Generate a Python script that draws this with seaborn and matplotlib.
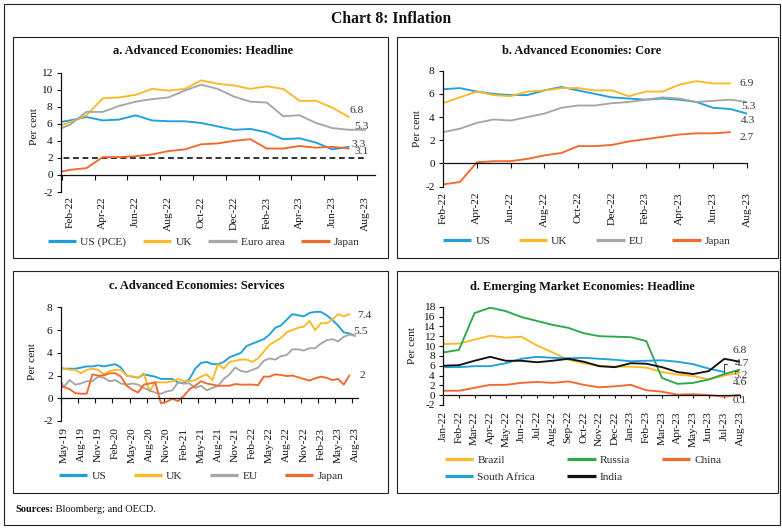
import numpy as np
import pandas as pd
import matplotlib
matplotlib.use("Agg")
import matplotlib.pyplot as plt
import seaborn as sns
from matplotlib.patches import Rectangle
from matplotlib.lines import Line2D

nan = np.nan

# ---------------- data ----------------
# Panel a: Advanced Economies Headline (Jan-22 .. Aug-23)
months_a = ['Jan-22', 'Feb-22', 'Mar-22', 'Apr-22', 'May-22', 'Jun-22', 'Jul-22', 'Aug-22',
            'Sep-22', 'Oct-22', 'Nov-22', 'Dec-22', 'Jan-23', 'Feb-23', 'Mar-23', 'Apr-23',
            'May-23', 'Jun-23', 'Jul-23', 'Aug-23']
us_pce_a = [6.1, 6.4, 6.8, 6.4, 6.5, 7.0, 6.4, 6.3, 6.3, 6.1, 5.7, 5.3, 5.4, 5.0, 4.2, 4.3, 3.8, 3.0, 3.3, nan]
uk_a = [5.5, 6.2, 7.0, 9.0, 9.1, 9.4, 10.1, 9.9, 10.1, 11.1, 10.7, 10.5, 10.1, 10.4, 10.1, 8.7, 8.7, 7.9, 6.8, nan]
euro_a = [5.1, 5.9, 7.4, 7.4, 8.1, 8.6, 8.9, 9.1, 9.9, 10.6, 10.1, 9.2, 8.6, 8.5, 6.9, 7.0, 6.1, 5.5, 5.3, 5.3]
japan_a = [0.2, 0.6, 0.8, 2.1, 2.1, 2.2, 2.4, 2.8, 3.0, 3.6, 3.7, 4.0, 4.2, 3.1, 3.1, 3.4, 3.2, 3.3, 3.1, nan]
target_a = [2.0] * 20

# Panel b: Advanced Economies Core (Feb-22 .. Aug-23)
months_b = months_a[1:]
us_b = [6.4, 6.5, 6.2, 6.0, 5.9, 5.9, 6.3, 6.6, 6.3, 6.0, 5.7, 5.6, 5.5, 5.6, 5.5, 5.3, 4.8, 4.7, 4.3]
uk_b = [5.2, 5.7, 6.2, 5.9, 5.8, 6.2, 6.3, 6.5, 6.5, 6.3, 6.3, 5.8, 6.2, 6.2, 6.8, 7.1, 6.9, 6.9, nan]
eu_b = [2.7, 3.0, 3.5, 3.8, 3.7, 4.0, 4.3, 4.8, 5.0, 5.0, 5.2, 5.3, 5.5, 5.7, 5.6, 5.3, 5.4, 5.5, 5.3]
japan_b = [-1.8, -1.6, 0.1, 0.2, 0.2, 0.4, 0.7, 0.9, 1.5, 1.5, 1.6, 1.9, 2.1, 2.3, 2.5, 2.6, 2.6, 2.7, nan]

# Panel c: Advanced Economies Services (Apr-19 .. Aug-23)
months_c = list(pd.date_range('2019-04-01', '2023-08-01', freq='MS').strftime('%b-%y'))
us_c = [2.7, 2.6, 2.6, 2.6, 2.7, 2.8, 2.8, 2.9, 2.8,
        2.9, 3.0, 2.7, 2.0, 1.9, 1.8, 2.1, 2.0, 1.9, 1.7, 1.7, 1.7,
        1.4, 1.3, 1.7, 2.6, 3.1, 3.2, 3.0, 3.0, 3.2, 3.6, 3.8, 4.0,
        4.6, 4.8, 5.0, 5.2, 5.6, 6.2, 6.4, 6.9, 7.4, 7.3, 7.2, 7.5,
        7.6, 7.6, 7.3, 6.9, 6.4, 5.8, 5.7, 5.5]
uk_c = [2.9, 2.6, 2.5, 2.5, 2.2, 2.5, 2.6, 2.5, 2.1,
        2.4, 2.5, 2.5, 2.0, 1.9, 1.8, 2.2, 0.6, 1.4, 1.4, 1.4, 1.5,
        1.7, 1.5, 1.5, 1.6, 1.9, 2.1, 1.6, 3.0, 2.6, 3.2, 3.3, 3.4,
        3.4, 3.2, 3.5, 4.1, 4.7, 5.0, 5.3, 5.8, 6.0, 6.2, 6.3, 6.8,
        6.0, 6.6, 6.6, 6.9, 7.4, 7.2, 7.4, nan]
eu_c = [1.9, 1.0, 1.6, 1.2, 1.3, 1.5, 1.5, 1.9, 1.8,
        1.5, 1.6, 1.3, 1.2, 1.3, 1.2, 0.9, 0.7, 0.5, 0.4, 0.6, 0.7,
        1.4, 1.3, 1.3, 0.9, 1.1, 0.7, 0.9, 1.1, 1.7, 2.1, 2.7, 2.4,
        2.3, 2.5, 2.7, 3.3, 3.5, 3.4, 3.7, 3.8, 4.3, 4.3, 4.2, 4.4,
        4.4, 4.8, 5.1, 5.2, 5.0, 5.4, 5.6, 5.5]
japan_c = [1.0, 1.0, 0.8, 0.45, 0.4, 0.4, 2.1, 2.0, 2.0,
           2.2, 2.2, 1.9, 1.1, 0.75, 0.5, 1.2, 1.3, 1.4, -0.45, -0.3, -0.05,
           -0.25, 0.2, 0.8, 1.1, 1.5, 1.3, 1.2, 1.1, 1.1, 1.1, 1.25, 1.2,
           1.2, 1.2, 1.15, 1.9, 1.9, 2.1, 2.05, 1.95, 2.0, 1.85, 1.7, 1.55,
           1.75, 1.9, 1.8, 1.6, 1.7, 1.2, 2.0, nan]

# Panel d: Emerging Market Economies Headline (Jan-22 .. Aug-23)
months_d = months_a
brazil_d = [10.4, 10.5, 11.3, 12.1, 11.7, 11.9, 10.1, 8.7, 7.2, 6.5, 5.9, 5.8, 5.8, 5.6, 4.7, 4.2, 3.9, 3.2, 4.0, 4.6]
russia_d = [8.7, 9.2, 16.7, 17.8, 17.1, 15.9, 15.1, 14.3, 13.7, 12.6, 12.0, 11.9, 11.8, 11.0, 3.5, 2.3, 2.5, 3.2, 4.3, 5.2]
china_d = [0.9, 0.9, 1.5, 2.1, 2.1, 2.5, 2.7, 2.5, 2.8, 2.1, 1.6, 1.8, 2.1, 1.0, 0.7, 0.1, 0.2, 0.0, -0.3, 0.1]
safrica_d = [5.7, 5.7, 5.9, 5.9, 6.5, 7.4, 7.8, 7.6, 7.5, 7.6, 7.4, 7.2, 6.9, 7.0, 7.1, 6.8, 6.3, 5.4, 4.7, nan]
india_d = [6.0, 6.1, 7.0, 7.8, 7.0, 7.0, 6.7, 7.0, 7.4, 6.8, 5.9, 5.7, 6.5, 6.4, 5.7, 4.7, 4.3, 4.9, 7.4, 6.8]

# ---------------- style ----------------
BLUE = '#1FA0DA'
GOLD = '#FDB827'
GRAY = '#A6A6A6'
ORANGE = '#F2692E'
GREEN = '#2EA84C'
BLACK = '#111111'

sns.set_theme(style='white')
plt.rcParams['font.family'] = ['Liberation Serif', 'DejaVu Serif']
plt.rcParams['axes.unicode_minus'] = False

W, H = 782, 528
fig = plt.figure(figsize=(W / 100, H / 100), dpi=100)
fig.patch.set_facecolor('white')

TICK_FS = 8.2
LW = 1.35


def ax_px(left, top, right, bottom):
    return fig.add_axes([left / W, 1 - bottom / H, (right - left) / W, (bottom - top) / H])


def frame(left, top, right, bottom, lw=0.8):
    fig.add_artist(Rectangle((left / W, 1 - bottom / H), (right - left) / W, (bottom - top) / H,
                             transform=fig.transFigure, fill=False, lw=lw, ec='#222222'))


def style(ax, ylim, ystep, xlim):
    ax.set_facecolor('none')
    ax.set_xlim(*xlim)
    ax.set_ylim(*ylim)
    ax.set_yticks(np.arange(ylim[0], ylim[1] + 0.01, ystep))
    ax.set_yticklabels([f"{int(v)}" for v in np.arange(ylim[0], ylim[1] + 0.01, ystep)])
    for s in ['top', 'right']:
        ax.spines[s].set_visible(False)
    ax.spines['bottom'].set_position(('data', 0))
    for s in ['left', 'bottom']:
        ax.spines[s].set_color('#111111')
        ax.spines[s].set_linewidth(0.9)
    ax.tick_params(axis='y', direction='out', length=3, width=0.8, pad=3,
                   labelsize=TICK_FS, colors='#111111', left=True)
    ax.tick_params(axis='x', which='both', direction='out', width=0.8, colors='#111111',
                   labelsize=TICK_FS, bottom=True)
    ax.set_xlabel('')
    ax.grid(False)


def draw(ax, x, y, color, lw=LW):
    sns.lineplot(x=x, y=y, ax=ax, color=color, linewidth=lw, legend=False)


def legend(ax, colors, labels, x_px, y_px, ncol, colsp):
    handles = [Line2D([], [], color=c, lw=2.3, solid_capstyle='butt') for c in colors]
    ax.legend(handles, labels, loc='center left', bbox_to_anchor=(x_px / W, 1 - y_px / H),
              bbox_transform=fig.transFigure, ncol=ncol, frameon=False, fontsize=8.2,
              handlelength=2.5, handletextpad=0.35, columnspacing=colsp, borderpad=0,
              borderaxespad=0, labelspacing=0.6)


def ylab(ax, x, y):
    ax.set_ylabel('Per cent', fontsize=8.2, color='#111111')
    ax.yaxis.set_label_coords(x, y)


def endlabel(ax, x, y, s):
    ax.text(x, y, s, ha='center', va='center', fontsize=8.2, color='#333333')


# outer and panel frames
frame(3.5, 3.5, 779.5, 525)
frame(13, 37, 388, 258)
frame(397, 37, 778, 258)
frame(13, 271, 388, 493)
frame(397, 271, 778, 493)

fig.text(0.5, 1 - 19 / H, 'Chart 8: Inflation', ha='center', va='center', fontsize=11.3,
         weight='bold', color='#111111')

# ---------------- panel a ----------------
axa = ax_px(61, 72.7, 375, 192)
pos_a = np.arange(len(months_a)) - 1
draw(axa, pos_a, target_a, BLACK, lw=1.2)
axa.lines[-1].set_linestyle((0, (3.5, 2.2)))
draw(axa, pos_a, us_pce_a, BLUE)
draw(axa, pos_a, uk_a, GOLD)
draw(axa, pos_a, euro_a, GRAY)
draw(axa, pos_a, japan_a, ORANGE)
style(axa, (-2, 12), 2, (-0.55, 18.6))
axa.set_xticks(pos_a[1::2])
axa.set_xticklabels(months_a[1::2], rotation=90, va='top', ha='center')
axa.set_xticks(pos_a[1::2] - 0.5, minor=True)
axa.tick_params(axis='x', which='major', length=0, pad=15.5)
axa.tick_params(axis='x', which='minor', length=3.5)
ylab(axa, -0.07, 0.55)
endlabel(axa, 17.5, 7.6, '6.8')
endlabel(axa, 17.8, 5.74, '5.3')
endlabel(axa, 17.6, 3.63, '3.3')
endlabel(axa, 17.8, 2.73, '3.1')
legend(axa, [BLUE, GOLD, GRAY, ORANGE], ['US (PCE)', 'UK', 'Euro area', 'Japan'], 48, 242, 4, 1.45)
fig.text(203 / W, 1 - 51 / H, 'a. Advanced Economies: Headline', ha='center', va='center',
         fontsize=9, weight='bold', color='#111111')

# ---------------- panel b ----------------
axb = ax_px(443, 70.7, 747, 186.7)
pos_b = np.arange(len(months_b))
draw(axb, pos_b, us_b, BLUE)
draw(axb, pos_b, uk_b, GOLD)
draw(axb, pos_b, eu_b, GRAY)
draw(axb, pos_b, japan_b, ORANGE)
style(axb, (-2, 8), 2, (0, 18))
axb.set_xticks(pos_b[::2])
axb.set_xticklabels(months_b[::2], rotation=90, va='top', ha='center')
axb.tick_params(axis='x', which='major', length=3.5, pad=17)
ylab(axb, -0.069, 0.5)
endlabel(axb, 18.0, 6.9, '6.9')
endlabel(axb, 18.07, 4.94, '5.3')
endlabel(axb, 18.07, 3.7, '4.3')
endlabel(axb, 18.0, 2.24, '2.7')
legend(axb, [BLUE, GOLD, GRAY, ORANGE], ['US', 'UK', 'EU', 'Japan'], 443, 240.7, 4, 2.5)
fig.text(582 / W, 1 - 50.7 / H, 'b. Advanced Economies: Core', ha='center', va='center',
         fontsize=9, weight='bold', color='#111111')

# ---------------- panel c ----------------
axc = ax_px(61, 307.3, 358, 421)
pos_c = np.arange(len(months_c)) - 1
draw(axc, pos_c, us_c, BLUE)
draw(axc, pos_c, uk_c, GOLD)
draw(axc, pos_c, eu_c, GRAY)
draw(axc, pos_c, japan_c, ORANGE)
style(axc, (-2, 8), 2, (-0.5, 51.5))
axc.set_xticks(pos_c[1::3])
axc.set_xticklabels(months_c[1::3], rotation=90, va='top', ha='center')
axc.set_xticks(pos_c[1::3] - 0.5, minor=True)
axc.tick_params(axis='x', which='major', length=0, pad=21)
axc.tick_params(axis='x', which='minor', length=3.5)
ylab(axc, -0.081, 0.52)
endlabel(axc, 52.6, 7.32, '7.4')
endlabel(axc, 52.0, 5.86, '5.5')
endlabel(axc, 52.2, 1.96, '2')
legend(axc, [BLUE, GOLD, GRAY, ORANGE], ['US', 'UK', 'EU', 'Japan'], 59, 475.7, 4, 2.4)
fig.text(197 / W, 1 - 286 / H, 'c. Advanced Economies: Services', ha='center', va='center',
         fontsize=9, weight='bold', color='#111111')

# ---------------- panel d ----------------
axd = ax_px(443.3, 306.7, 740, 405)
pos_d = np.arange(len(months_d))
draw(axd, pos_d, brazil_d, GOLD)
draw(axd, pos_d, russia_d, GREEN)
draw(axd, pos_d, china_d, ORANGE)
draw(axd, pos_d, safrica_d, BLUE)
draw(axd, pos_d, india_d, BLACK)
style(axd, (-2, 18), 2, (0, 19))
axd.set_xticks(pos_d)
axd.set_xticklabels(months_d, rotation=90, va='top', ha='center')
axd.tick_params(axis='x', which='major', length=2.5, pad=9)
ylab(axd, -0.089, 0.61)
endlabel(axd, 19.0, 9.05, '6.8')
axd.annotate('4.7', xy=(pos_d[18], safrica_d[18]), xytext=(19.1, 6.35), ha='center', va='center',
             fontsize=8.2, color='#333333', annotation_clip=False,
             arrowprops=dict(arrowstyle='-', color='#333333', lw=0.7, shrinkA=3, shrinkB=0,
                             connectionstyle='angle,angleA=0,angleB=90,rad=0'))
endlabel(axd, 19.0, 4.05, '5.2')
endlabel(axd, 19.0, 2.5, '4.6')
endlabel(axd, 19.0, -1.07, '0.1')
legend(axd, [GOLD, BLUE, GREEN, BLACK, ORANGE],
       ['Brazil', 'South Africa', 'Russia', 'India', 'China'], 445, 468.5, 3, 2.8)
fig.text(582 / W, 1 - 286.7 / H, 'd. Emerging Market Economies: Headline', ha='center',
         va='center', fontsize=9, weight='bold', color='#111111')

# ---------------- source ----------------
t1 = fig.text(15 / W, 1 - 509 / H, 'Sources:', ha='left', va='center', fontsize=7.5,
              weight='bold', color='#111111')
axa.annotate(' Bloomberg; and OECD.', xy=(1, 0.5), xycoords=t1, ha='left', va='center',
             fontsize=7.5, color='#111111', annotation_clip=False)

fig.savefig('out.png', dpi=100, facecolor='white')
